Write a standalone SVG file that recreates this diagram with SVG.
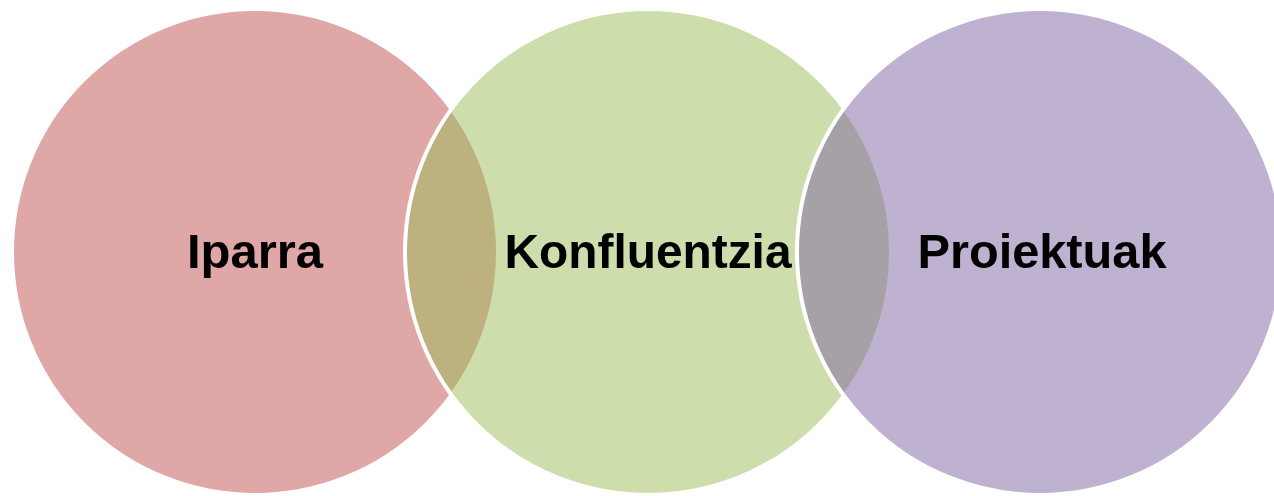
<svg xmlns="http://www.w3.org/2000/svg" width="1274" height="496" viewBox="0 0 1274 496">
<style>
.c{stroke:#FFFFFF;stroke-width:4;fill-opacity:0.5}
.t{font-family:"Liberation Sans",Arial,sans-serif;font-weight:bold;font-size:49px;fill:#000000;text-anchor:middle}
</style>
<rect width="1274" height="496" fill="#FFFFFF"/>
<g id="node-iparra">
<circle class="c" cx="255" cy="252" r="243" fill="#C0504D"/>
</g>
<g id="node-konfluentzia">
<circle class="c" cx="648" cy="252" r="243" fill="#9BBB59"/>
</g>
<g id="node-proiektuak">
<circle class="c" cx="1040" cy="252" r="243" fill="#8064A2"/>
</g>
<g id="labels">
<text class="t" x="255" y="268" textLength="136" lengthAdjust="spacingAndGlyphs">Iparra</text>
<text class="t" x="648" y="268" textLength="287" lengthAdjust="spacingAndGlyphs">Konfluentzia</text>
<text class="t" x="1042" y="268" textLength="249" lengthAdjust="spacingAndGlyphs">Proiektuak</text>
</g>
<g id="connectors"></g>
</svg>
